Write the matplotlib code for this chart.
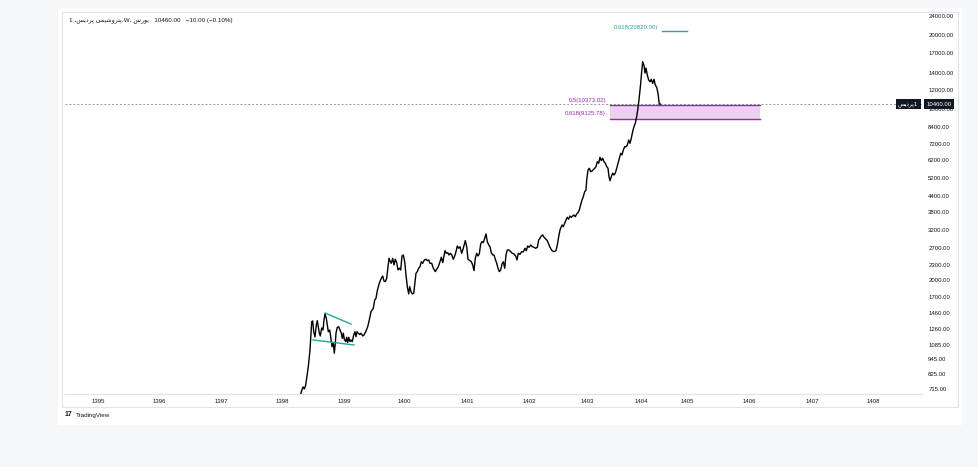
import matplotlib
matplotlib.use("Agg")
import matplotlib.pyplot as plt
from matplotlib.patches import Rectangle

plt.rcParams['font.family'] = ['Liberation Sans', 'DejaVu Sans']

# weekly closes, x is bar offset from start of 1395
bars = [202, 203.7, 205, 206.3, 207.7, 208.7, 210.3, 212, 213, 213.7, 214.7, 215.7, 217, 218.3, 219.3, 220.3,
        221.3, 222.3, 223.7, 225, 226, 227, 228.3, 229.3, 230.3, 231.7, 232.7, 234, 235.3, 236.3, 237.3, 238,
        239.3, 240.7, 242, 243.3, 244.3, 245.3, 246.3, 247.7, 248.7, 249.7, 250.7, 252, 253, 254.3, 255.7, 257,
        258, 259, 260.3, 261.7, 263, 264.7, 266, 267.7, 269.7, 271.3, 273, 275.3, 276.7, 278, 279.3, 281.3,
        283.3, 284.7, 286, 287.3, 288.7, 290, 291, 292.3, 293.3, 294.7, 296, 297.3, 298.7, 300, 301.3, 302.7,
        304, 305.3, 306.7, 308, 309.3, 310.7, 311.7, 313, 314.3, 315.7, 317, 318, 319.3, 320.7, 322, 323.3,
        324.7, 326.3, 328, 329.3, 330.7, 332, 333.7, 335.3, 337.3, 338.7, 340.3, 342, 343.3, 344.7, 346, 347,
        348.3, 349.7, 351, 352.3, 353.7, 355.3, 356.7, 358, 359.3, 360.7, 362, 363.7, 365.3, 367.3, 368.7, 370,
        372, 373.3, 374.7, 376, 377.3, 378.7, 380, 381.3, 382.7, 384, 385.3, 386.7, 388, 389.3, 390.7, 392,
        393.3, 394.7, 396, 397.3, 398.7, 400, 401.3, 402.7, 404, 405.3, 406.7, 408, 409.3, 411, 412.7, 414.3,
        416, 417.7, 419, 420.3, 422, 423.7, 425.3, 427, 428.3, 429.7, 431, 432.7, 434.3, 436, 437.7, 439.3,
        440.7, 442, 443.3, 444.7, 446, 448, 449.3, 450.7, 452, 454, 456, 458, 459.3, 460.7, 462, 462.7,
        464, 465.3, 466.7, 468, 469.3, 470.7, 472, 473.3, 474.7, 476, 477.3, 478.7, 480, 481.3, 482.7, 484,
        485.3, 486.7, 488, 488.7, 490, 491.3, 492.7, 494, 495.3, 496.7, 498, 499.3, 500.7, 502, 503.3, 504.7,
        506, 507.3, 508.7, 510, 511, 512, 513.3, 514.7, 516, 517.3, 518.7, 520, 521.3, 522.7, 524, 525.3,
        526.7, 528, 529.3, 530.7, 532, 533.3, 534.7, 536, 537.3, 538.7, 540, 541.3, 542.7, 543.7, 544.7, 546,
        547, 548, 549.3, 550.7, 552, 553.3, 554.7, 556, 557.3, 558.7, 560, 561.3, 562.5]
closes = [668, 704, 729, 715, 742, 793, 882, 1033, 1212, 1348, 1357, 1226, 1167, 1306, 1361, 1285,
          1212, 1178, 1270, 1246, 1370, 1450, 1392, 1306, 1226, 1246, 1170, 1065, 1106, 1001, 1100, 1209,
          1278, 1285, 1246, 1209, 1152, 1209, 1142, 1117, 1163, 1106, 1163, 1117, 1135, 1117, 1189, 1226,
          1170, 1226, 1209, 1194, 1209, 1178, 1189, 1226, 1285, 1370, 1481, 1529, 1653, 1680, 1805, 1936,
          2028, 2072, 1977, 1965, 2028, 2262, 2449, 2371, 2335, 2449, 2299, 2426, 2350, 2194, 2230, 2194,
          2502, 2526, 2371, 2092, 1875, 1750, 1875, 1788, 1750, 1760, 1965, 2126, 2160, 2230, 2262, 2371,
          2335, 2410, 2426, 2394, 2410, 2335, 2335, 2230, 2160, 2210, 2262, 2371, 2473, 2350, 2502, 2630,
          2566, 2580, 2526, 2566, 2532, 2426, 2502, 2606, 2749, 2690, 2731, 2566, 2690, 2891, 2731, 2426,
          2394, 2371, 2299, 2179, 2449, 2566, 2502, 2550, 2801, 2864, 2837, 2957, 3079, 2864, 2775, 2731,
          2580, 2526, 2526, 2426, 2335, 2230, 2160, 2194, 2321, 2371, 2230, 2526, 2648, 2648, 2606, 2566,
          2550, 2502, 2410, 2566, 2542, 2606, 2600, 2690, 2630, 2749, 2715, 2775, 2731, 2715, 2690, 2715,
          2910, 2957, 3021, 3050, 2985, 2930, 2891, 2801, 2715, 2630, 2606, 2630, 2775, 3001, 3197, 3249,
          3351, 3297, 3406, 3512, 3603, 3540, 3646, 3603, 3646, 3681, 3623, 3716, 3762, 3859, 4045, 4240,
          4374, 4585, 4658, 5118, 5624, 5715, 5535, 5570, 5645, 5715, 5808, 6080, 5990, 6340, 6140, 6280,
          6080, 5990, 5808, 5715, 5280, 5084, 5280, 5460, 5365, 5460, 5715, 5990, 6280, 6580, 6477, 6789,
          7000, 7000, 7116, 7459, 7230, 7580, 8090, 8460, 8740, 9300, 10090, 11190, 12720, 14220, 15600, 15040,
          14000, 14690, 13756, 13124, 12910, 13210, 12720, 13210, 12520, 12250, 11580, 10460, 10460]

year_labels = ['1395', '1396', '1397', '1398', '1399', '1400', '1401', '1402', '1403', '1404',
               '1405', '1406', '1407', '1408']
year_bars = [0, 61, 123, 184, 246, 306, 369, 431, 489, 543, 589, 651, 714, 775]

price_ticks = [24000, 20000, 17000, 14000, 12000, 10000, 8400, 7200, 6200, 5200, 4400, 3800, 3200,
               2700, 2300, 2000, 1700, 1460, 1260, 1085, 945, 825, 715]

last_price = 10460.00
fib_zone = [10373.02, 9125.78]
fib_zone_names = ['0.5', '0.618']
fib_zone_bars = [512, 662]
fib_top = 20820.00
fib_top_bars = [564, 589]
tri_upper_bars, tri_upper_px = [227, 253], [1463, 1318]
tri_lower_bars, tri_lower_px = [215, 256], [1135, 1082]

PURPLE = '#9c27b0'
TEAL = '#26a69a'
TXT = '#131722'

# crude persian shaping, matplotlib has no bidi
FORMS = {
    'پ': '\ufb56\ufb57\ufb58\ufb59', 'ت': '\ufe95\ufe96\ufe97\ufe98', 'ر': '\ufead\ufeae',
    'و': '\ufeed\ufeee', 'ش': '\ufeb5\ufeb6\ufeb7\ufeb8', 'ی': '\ufbfc\ufbfd\ufbfe\ufbff',
    'م': '\ufee1\ufee2\ufee3\ufee4', 'د': '\ufea9\ufeaa', 'س': '\ufeb1\ufeb2\ufeb3\ufeb4',
    'ب': '\ufe8f\ufe90\ufe91\ufe92',
}


def rtl(s):
    out = []
    for i, c in enumerate(s):
        if c not in FORMS:
            out.append(c)
            continue
        prev = s[i - 1] if i > 0 else ''
        nxt = s[i + 1] if i + 1 < len(s) else ''
        jp = prev in FORMS and len(FORMS[prev]) == 4
        jn = len(FORMS[c]) == 4 and nxt in FORMS
        f = FORMS[c]
        if jp and jn:
            out.append(f[3])
        elif jp:
            out.append(f[1])
        elif jn:
            out.append(f[2])
        else:
            out.append(f[0])
    return ''.join(out)[::-1]


fig = plt.figure(figsize=(9.79, 4.67), dpi=100, facecolor='#f6f7f9')
W, H = 979.0, 467.0

# white card + frame
fig.patches.append(Rectangle((58 / W, 1 - 425 / H), 904 / W, 417 / H, transform=fig.transFigure,
                             facecolor='white', edgecolor='none', zorder=-2))
fig.patches.append(Rectangle((62 / W, 1 - 407 / H), 896 / W, 395 / H, transform=fig.transFigure,
                             facecolor='none', edgecolor='#e0e3eb', lw=0.8, zorder=-1))

ax = fig.add_axes([65 / W, 1 - 394 / H, 857 / W, 382 / H])
ax.set_zorder(2)
ax.set_facecolor('none')
ax.set_yscale('log')
ax.set_xlim(-33, 824)
ax.set_ylim(682, 24900)

ax.plot(bars, closes, color='black', lw=1.0, zorder=3)

# fib zone
ax.fill_between(fib_zone_bars, fib_zone[1], fib_zone[0], color=PURPLE, alpha=0.2, lw=0, zorder=2)
for lvl, name in zip(fib_zone, fib_zone_names):
    ax.plot(fib_zone_bars, [lvl, lvl], color=PURPLE, lw=1.0, zorder=2)
    ax.text(fib_zone_bars[0] - 4, lvl * 1.045, '%s(%.2f)' % (name, lvl), color=PURPLE,
            fontsize=4.3, ha='right', va='center')
ax.plot(fib_top_bars, [fib_top, fib_top], color=TEAL, lw=1.0)
ax.text(fib_top_bars[0] - 4, fib_top * 1.037, '0.618(%.2f)' % fib_top, color=TEAL,
        fontsize=4.3, ha='right', va='center')

# triangle
ax.plot(tri_upper_bars, tri_upper_px, color=TEAL, lw=1.0, zorder=4)
ax.plot(tri_lower_bars, tri_lower_px, color=TEAL, lw=1.0, zorder=4)

# last price line
ax.axhline(last_price, color='#9598a1', lw=0.7, ls=(0, (2, 2)), zorder=1)
ax.annotate(rtl('پردیس') + '1', xy=(1.0, last_price), xycoords=('axes fraction', 'data'),
            xytext=(-10, 0), textcoords='offset points', ha='center', va='center', fontsize=4.3,
            color='white', bbox=dict(boxstyle='square,pad=0.4', fc=TXT, ec='none'), zorder=6)
ax.annotate('%.2f' % last_price, xy=(1.0, last_price), xycoords=('axes fraction', 'data'),
            xytext=(12.5, 0), textcoords='offset points', ha='center', va='center', fontsize=4.3,
            color='white', bbox=dict(boxstyle='square,pad=0.4', fc=TXT, ec='none'), zorder=6,
            annotation_clip=False)

# axes
ax.yaxis.tick_right()
ax.set_yticks(price_ticks)
ax.set_yticklabels(['%.2f' % p for p in price_ticks])
ax.yaxis.set_minor_locator(matplotlib.ticker.NullLocator())
ax.set_xticks(year_bars)
ax.set_xticklabels(year_labels)
ax.tick_params(axis='y', length=0, pad=4.5, labelsize=4.3, labelcolor=TXT)
ax.tick_params(axis='x', length=0, pad=3.5, labelsize=4.3, labelcolor=TXT)
for s in ['top', 'left', 'right']:
    ax.spines[s].set_visible(False)
ax.spines['bottom'].set_color('#e0e3eb')
ax.spines['bottom'].set_linewidth(0.8)

# header + footer
title = '1 ،' + rtl('پتروشیمی پردیس') + '،W، ' + rtl('بورس')
fig.text(69 / W, 1 - 20 / H, title + '   10460.00   \u221210.00 (\u22120.10%)', fontsize=4.5,
         color=TXT, va='center', family=['Liberation Sans', 'DejaVu Sans'])
fig.text(65 / W, 1 - 415 / H, '17', fontsize=5, fontweight='bold', color=TXT, va='center')
fig.text(76 / W, 1 - 415 / H, 'TradingView', fontsize=4.5, color=TXT, va='center')

fig.savefig('out.png', dpi=100, facecolor=fig.get_facecolor())
